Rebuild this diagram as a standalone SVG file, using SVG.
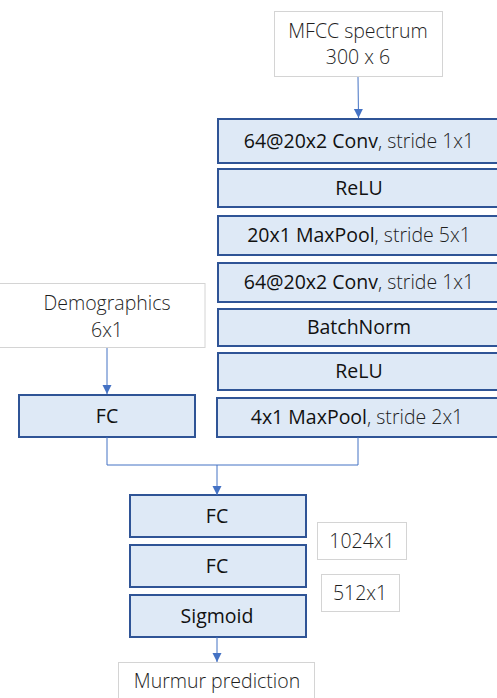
<svg xmlns="http://www.w3.org/2000/svg" width="497" height="698" viewBox="0 0 497 698">
<style>
.blk{fill:#dee9f6;stroke:#2f5496;stroke-width:2}
.lbl{fill:#fff;stroke:#d4d4d4;stroke-width:1}
text{font-family:"Open Sans","Liberation Sans",sans-serif;font-size:19.5px;fill:#111;text-anchor:middle}
.lt{font-weight:300;fill:#1e1e1e}
.con{fill:none;stroke:#4472c4;stroke-width:1}
</style>
<defs>
<marker id="ah" markerWidth="10" markerHeight="10" refX="9" refY="5" orient="auto" markerUnits="userSpaceOnUse">
<path d="M0,0.5 L9,5 L0,9.5 Z" fill="#4472c4"/>
</marker>
</defs>
<g id="mfcc"><rect class="lbl" x="274.5" y="11.5" width="168" height="65"/><text class="lt" x="358" y="38">MFCC spectrum</text><text class="lt" x="358" y="64">300 x 6</text></g>
<g id="conv1"><rect class="blk" x="218" y="119" width="283" height="44"/><text x="359" y="148">64@20x2 Conv<tspan class="lt">, stride 1x1</tspan></text></g>
<g id="relu1"><rect class="blk" x="218" y="169" width="283" height="38"/><text x="359" y="195">ReLU</text></g>
<g id="pool1"><rect class="blk" x="218" y="216" width="283" height="39"/><text x="359" y="242">20x1 MaxPool<tspan class="lt">, stride 5x1</tspan></text></g>
<g id="conv2"><rect class="blk" x="218" y="263" width="283" height="39"/><text x="359" y="289">64@20x2 Conv<tspan class="lt">, stride 1x1</tspan></text></g>
<g id="bn"><rect class="blk" x="218" y="309" width="283" height="37"/><text x="359" y="334">BatchNorm</text></g>
<g id="relu2"><rect class="blk" x="218" y="353" width="283" height="37"/><text x="359" y="378">ReLU</text></g>
<g id="pool2"><rect class="blk" x="217" y="398" width="284" height="39"/><text x="357" y="424">4x1 MaxPool<tspan class="lt">, stride 2x1</tspan></text></g>
<g id="demo"><rect class="lbl" x="-2" y="283.5" width="207" height="64"/><text class="lt" x="107" y="310">Demographics</text><text class="lt" x="107" y="337">6x1</text></g>
<g id="fc0"><rect class="blk" x="19" y="395" width="176" height="42"/><text x="107" y="423">FC</text></g>
<g id="fc1"><rect class="blk" x="130" y="495" width="176" height="42"/><text x="217" y="523">FC</text></g>
<g id="fc2"><rect class="blk" x="130" y="545" width="176" height="42"/><text x="217" y="573">FC</text></g>
<g id="sig"><rect class="blk" x="130" y="595" width="176" height="42"/><text x="217" y="623">Sigmoid</text></g>
<g id="d1024"><rect class="lbl" x="317.5" y="522.5" width="89" height="37"/><text class="lt" x="362" y="548">1024x1</text></g>
<g id="d512"><rect class="lbl" x="321.5" y="574.5" width="78" height="37"/><text class="lt" x="360" y="600">512x1</text></g>
<g id="out"><rect class="lbl" x="118.5" y="662.5" width="196" height="40"/><text class="lt" x="217" y="688">Murmur prediction</text></g>
<g id="connectors">
<path class="con" d="M358,77 L358.5,118" marker-end="url(#ah)"/>
<path class="con" d="M107,348 L107,394" marker-end="url(#ah)"/>
<path class="con" d="M107,437 L107,465 L358,465 L358,437"/>
<path class="con" d="M217,465 L217,495" marker-end="url(#ah)"/>
<path class="con" d="M217,637 L217,662" marker-end="url(#ah)"/>
</g>
</svg>
